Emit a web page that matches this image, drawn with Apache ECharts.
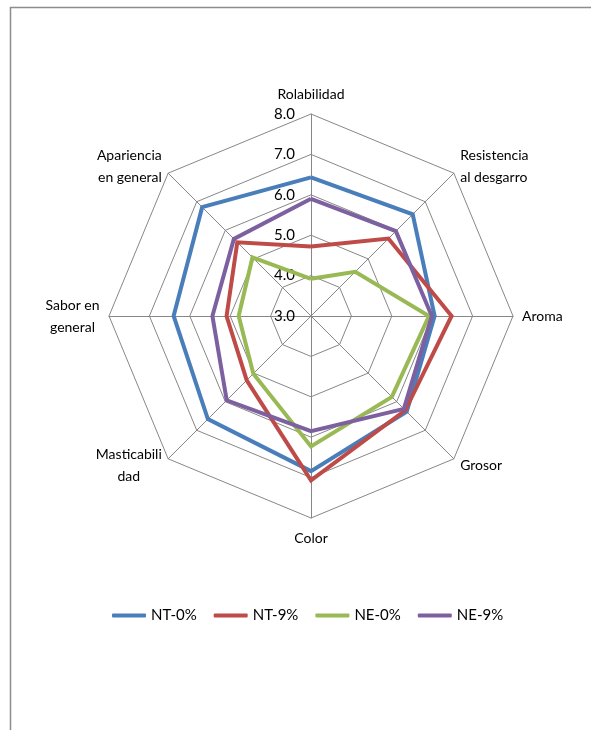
<!DOCTYPE html>
<html>
<head>
<meta charset="utf-8">
<script src="https://cdn.jsdelivr.net/npm/echarts@6/dist/echarts.min.js"></script>
<style>
  html, body { margin: 0; padding: 0; background: #fff; }
  #chart { width: 591px; height: 730px; }
</style>
</head>
<body>
<div id="chart"></div>
<script>
// Sensory attributes, listed clockwise from the top
const attributes = [
  'Rolabilidad',
  'Resistencia\nal desgarro',
  'Aroma',
  'Grosor',
  'Color',
  'Masticabili\ndad',
  'Sabor en\ngeneral',
  'Apariencia\nen general'
];

const seriesNames = ['NT-0%', 'NT-9%', 'NE-0%', 'NE-9%'];

// Mean scores per attribute (same order as attributes)
const nt0 = [6.43, 6.56, 6.06, 6.35, 6.84, 6.61, 6.40, 6.81];
const nt9 = [4.72, 5.71, 6.48, 6.30, 7.07, 5.25, 5.09, 5.58];
const ne0 = [3.92, 4.55, 5.92, 5.83, 6.23, 5.02, 4.79, 5.05];
const ne9 = [5.90, 5.97, 5.99, 6.25, 5.85, 5.95, 5.44, 5.70];

const scaleMin = 3;
const scaleMax = 8;

const colors = ['#4a7ebb', '#be4b48', '#98b954', '#7d60a0'];
const fontFamily = 'Lato, "Open Sans", sans-serif';
const nameFontSize = 14;

// Two-line names that are centred line by line
const centredNames = ['Masticabili\ndad', 'Sabor en\ngeneral'];

// ECharts lays radar indicators out counter-clockwise; reorder to run clockwise
const order = [0, 7, 6, 5, 4, 3, 2, 1];
const pick = arr => order.map(i => arr[i]);

// Measure text so centred names can get a fixed-width rich box
const measureCtx = document.createElement('canvas').getContext('2d');
measureCtx.font = nameFontSize + 'px ' + fontFamily;
const textWidth = s => Math.ceil(measureCtx.measureText(s).width);

const rich = {};
centredNames.forEach((n, i) => {
  const w = Math.max(...n.split('\n').map(textWidth));
  rich['c' + i] = {
    width: w,
    align: 'center',
    fontSize: nameFontSize,
    fontFamily: fontFamily,
    color: '#000',
    lineHeight: 22
  };
});

const indicators = pick(attributes).map((name, k) => ({
  name: name,
  min: scaleMin,
  max: scaleMax,
  axisLabel: { show: k === 0 }
}));

const values = [nt0, nt9, ne0, ne9];

const chart = echarts.init(document.getElementById('chart'), null, { renderer: 'canvas' });

chart.setOption({
  backgroundColor: '#ffffff',
  animation: false,
  color: colors,
  textStyle: { fontFamily: fontFamily },
  graphic: [{
    type: 'polyline',
    shape: { points: [[10.5, 730], [10.5, 7.5], [591, 7.5]] },
    style: { stroke: '#8c8c8c', lineWidth: 1.5, fill: null },
    silent: true
  }],
  legend: {
    bottom: 102,
    left: 107,
    itemGap: 17,
    itemWidth: 34,
    itemHeight: 4,
    icon: 'roundRect',
    textStyle: { fontSize: 15, color: '#000', fontFamily: fontFamily },
    data: seriesNames
  },
  radar: {
    center: [311, 316],
    radius: 202,
    startAngle: 90,
    shape: 'polygon',
    splitNumber: 5,
    nameGap: 9,
    axisName: {
      color: '#000',
      fontSize: nameFontSize,
      fontFamily: fontFamily,
      lineHeight: 22,
      rich: rich,
      formatter: name => {
        const idx = centredNames.indexOf(name);
        if (idx < 0) return name;
        return name.split('\n').map(s => '{c' + idx + '|' + s + '}').join('\n');
      }
    },
    axisLine: { lineStyle: { color: '#878787', width: 1 } },
    splitLine: { lineStyle: { color: '#878787', width: 1 } },
    splitArea: { show: false },
    axisTick: { show: false },
    axisLabel: {
      color: '#000',
      fontSize: 15,
      fontFamily: fontFamily,
      margin: 16,
      formatter: v => v.toFixed(1)
    },
    indicator: indicators
  },
  series: [{
    type: 'radar',
    symbol: 'none',
    data: values.map((arr, i) => ({
      name: seriesNames[i],
      value: pick(arr),
      lineStyle: { color: colors[i], width: 4, join: 'miter' },
      itemStyle: { color: colors[i] }
    }))
  }]
});
</script>
</body>
</html>
